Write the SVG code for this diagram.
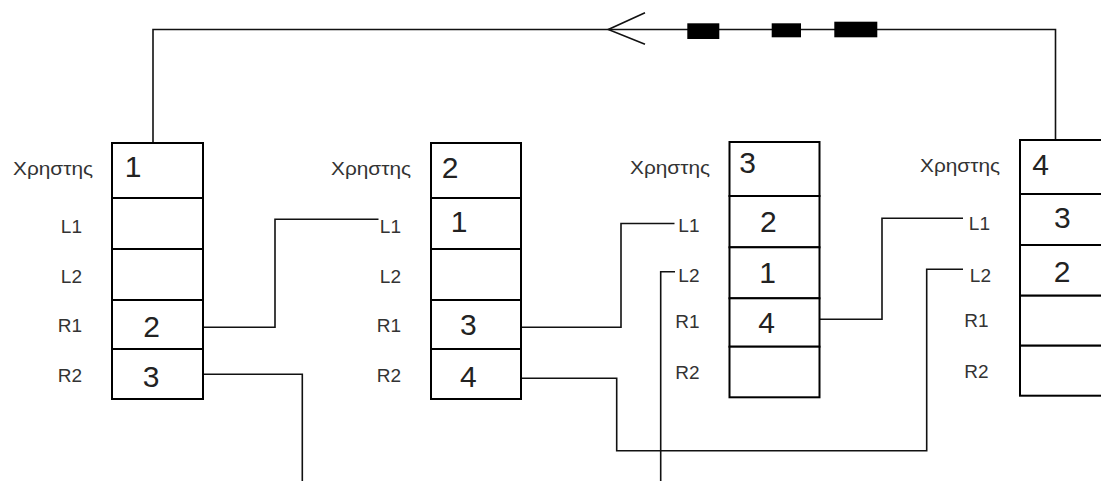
<svg xmlns="http://www.w3.org/2000/svg" width="1101" height="481" viewBox="0 0 1101 481">
  <style>
    .cell { fill: #fff; stroke: #000; stroke-width: 2; }
    .lbl { font-family: "Liberation Sans", Arial, sans-serif; font-size: 19px; fill: #333; text-anchor: end; }
    .num { font-family: "Liberation Sans", Arial, sans-serif; font-size: 30px; fill: #222; text-anchor: middle; }
    .wire { fill: none; stroke: #111; stroke-width: 1.6; }
    .block { fill: #000; }
  </style>
  <rect width="1101" height="481" fill="#fff"/>

  <!-- connectors -->
  <g id="connectors">
    <!-- ring link from user 4 back to user 1 -->
    <polyline class="wire" points="1055.5,140 1055.5,29.5 153,29.5 153,143"/>
    <polyline class="wire" points="645,12.7 608.3,29.5 645,44.3"/>
    <rect class="block" x="687.3" y="23.3" width="32" height="15.7"/>
    <rect class="block" x="771.7" y="23.3" width="29.3" height="14"/>
    <rect class="block" x="834.3" y="21.7" width="43" height="15.6"/>
    <!-- user 1 R1 to user 2 L1 -->
    <polyline class="wire" points="203,327.3 275,327.3 275,219.3 378.5,219.3"/>
    <!-- user 1 R2 down -->
    <polyline class="wire" points="203,374.3 302.3,374.3 302.3,481"/>
    <!-- user 2 R1 to user 3 L1 -->
    <polyline class="wire" points="521,327.3 621,327.3 621,223.5 674.5,223.5"/>
    <!-- user 2 R2 to user 4 L2 -->
    <polyline class="wire" points="521,378.3 616.7,378.3 616.7,450.7 926.7,450.7 926.7,269.3 963,269.3"/>
    <!-- user 3 L2 down -->
    <polyline class="wire" points="675,271.7 660.7,271.7 660.7,481"/>
    <!-- user 3 R1 to user 4 L1 -->
    <polyline class="wire" points="818,319.3 882,319.3 882,218.3 963,218.3"/>
  </g>

  <!-- user 1 -->
  <g id="user1">
    <rect class="cell" x="112" y="143" width="91" height="55"/>
    <rect class="cell" x="112" y="198" width="91" height="51"/>
    <rect class="cell" x="112" y="249" width="91" height="51"/>
    <rect class="cell" x="112" y="300" width="91" height="49"/>
    <rect class="cell" x="112" y="349" width="91" height="50"/>
    <text class="lbl" x="93" y="175" textLength="80" lengthAdjust="spacingAndGlyphs">Χρηστης</text>
    <text class="lbl" x="82" y="232.5">L1</text>
    <text class="lbl" x="82" y="283">L2</text>
    <text class="lbl" x="82" y="331.5">R1</text>
    <text class="lbl" x="82" y="381.5">R2</text>
    <text class="num" x="133" y="177">1</text>
    <text class="num" x="151.7" y="336.7">2</text>
    <text class="num" x="151" y="386.7">3</text>
  </g>

  <!-- user 2 -->
  <g id="user2">
    <rect class="cell" x="431" y="143" width="90" height="55"/>
    <rect class="cell" x="431" y="198" width="90" height="51"/>
    <rect class="cell" x="431" y="249" width="90" height="51"/>
    <rect class="cell" x="431" y="300" width="90" height="49"/>
    <rect class="cell" x="431" y="349" width="90" height="50"/>
    <text class="lbl" x="411" y="175" textLength="80" lengthAdjust="spacingAndGlyphs">Χρηστης</text>
    <text class="lbl" x="401" y="232.5">L1</text>
    <text class="lbl" x="401" y="283">L2</text>
    <text class="lbl" x="401" y="331.5">R1</text>
    <text class="lbl" x="401" y="381.5">R2</text>
    <text class="num" x="450" y="178.3">2</text>
    <text class="num" x="459" y="231.7">1</text>
    <text class="num" x="468.3" y="335">3</text>
    <text class="num" x="468.3" y="386.7">4</text>
  </g>

  <!-- user 3 -->
  <g id="user3">
    <rect class="cell" x="729.5" y="142" width="90" height="54"/>
    <rect class="cell" x="729.5" y="196" width="90" height="51.3"/>
    <rect class="cell" x="729.5" y="247.3" width="90" height="51"/>
    <rect class="cell" x="729.5" y="298.3" width="90" height="48.4"/>
    <rect class="cell" x="729.5" y="346.7" width="90" height="50.6"/>
    <text class="lbl" x="710" y="174" textLength="80" lengthAdjust="spacingAndGlyphs">Χρηστης</text>
    <text class="lbl" x="699.5" y="231.7">L1</text>
    <text class="lbl" x="699.5" y="281.7">L2</text>
    <text class="lbl" x="699.5" y="328.3">R1</text>
    <text class="lbl" x="699.5" y="379.3">R2</text>
    <text class="num" x="747.5" y="173.3">3</text>
    <text class="num" x="768.3" y="231.7">2</text>
    <text class="num" x="767.5" y="283.3">1</text>
    <text class="num" x="766.5" y="333">4</text>
  </g>

  <!-- user 4 (runs past the right edge) -->
  <g id="user4">
    <rect class="cell" x="1020" y="140" width="100" height="54"/>
    <rect class="cell" x="1020" y="194" width="100" height="51"/>
    <rect class="cell" x="1020" y="245" width="100" height="50.7"/>
    <rect class="cell" x="1020" y="295.7" width="100" height="50"/>
    <rect class="cell" x="1020" y="345.7" width="100" height="50"/>
    <text class="lbl" x="1000" y="172" textLength="80" lengthAdjust="spacingAndGlyphs">Χρηστης</text>
    <text class="lbl" x="990" y="230">L1</text>
    <text class="lbl" x="991" y="281.7">L2</text>
    <text class="lbl" x="988.5" y="327.3">R1</text>
    <text class="lbl" x="988.5" y="378.3">R2</text>
    <text class="num" x="1040.5" y="175">4</text>
    <text class="num" x="1062.3" y="228.3">3</text>
    <text class="num" x="1062" y="281.7">2</text>
  </g>
</svg>
